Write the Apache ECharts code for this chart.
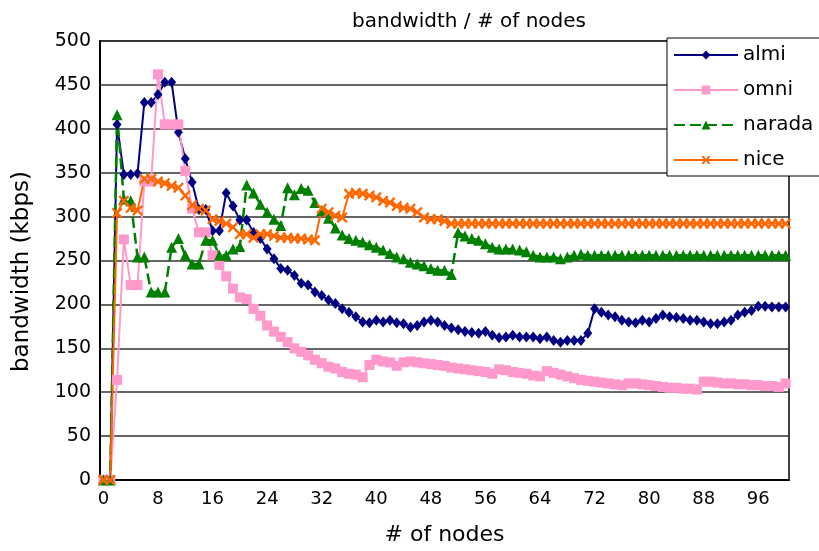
<!DOCTYPE html>
<html>
<head>
<meta charset="utf-8">
<script src="https://cdn.jsdelivr.net/npm/echarts@6/dist/echarts.min.js"></script>
<style>
  html, body { margin: 0; padding: 0; background: #fff; }
  #chart { width: 819px; height: 551px; }
</style>
</head>
<body>
<div id="chart"></div>
<script>
// x categories: number of nodes
const nodes = [
  0, 1, 2, 3, 4, 5, 6, 7, 8, 9, 10, 11, 12, 13, 14, 15, 16, 17, 18, 19,
  20, 21, 22, 23, 24, 25, 26, 27, 28, 29, 30, 31, 32, 33, 34, 35, 36, 37, 38, 39,
  40, 41, 42, 43, 44, 45, 46, 47, 48, 49, 50, 51, 52, 53, 54, 55, 56, 57, 58, 59,
  60, 61, 62, 63, 64, 65, 66, 67, 68, 69, 70, 71, 72, 73, 74, 75, 76, 77, 78, 79,
  80, 81, 82, 83, 84, 85, 86, 87, 88, 89, 90, 91, 92, 93, 94, 95, 96, 97, 98, 99, 100
];

const almi = [
  0, 0, 405, 348, 348, 349, 430, 430, 439, 453, 453, 396, 366, 339, 308, 308, 284, 284, 327, 312,
  296, 296, 282, 275, 263, 252, 241, 239, 233, 224, 222, 214, 210, 205, 201, 195, 191, 186, 180, 179,
  182, 180, 182, 179, 178, 174, 176, 180, 182, 180, 176, 173, 171, 169, 168, 167, 169, 165, 162, 163,
  165, 163, 163, 163, 161, 163, 159, 157, 159, 159, 159, 167, 195, 191, 188, 186, 182, 180, 179, 182,
  180, 184, 188, 186, 185, 184, 182, 182, 180, 178, 178, 180, 182, 188, 191, 193, 198, 198, 197, 197, 197
];

const omni = [
  0, 0, 114, 274, 222, 222, 340, 340, 462, 405, 405, 405, 352, 309, 282, 282, 256, 245, 232, 218,
  208, 206, 195, 187, 176, 169, 163, 157, 150, 146, 142, 137, 133, 129, 127, 123, 121, 120, 117, 131,
  137, 135, 134, 130, 134, 135, 134, 133, 132, 131, 130, 128, 127, 126, 125, 124, 123, 121, 126, 125,
  123, 122, 121, 119, 118, 124, 122, 120, 118, 116, 114, 113, 112, 111, 110, 109, 108, 110, 110, 109,
  108, 107, 106, 105, 105, 104, 104, 103, 112, 112, 111, 110, 110, 109, 109, 108, 108, 107, 107, 106, 110
];

const narada = [
  0, 0, 416, 320, 318, 254, 254, 214, 214, 214, 265, 275, 256, 246, 246, 273, 273, 256, 256, 263,
  266, 336, 327, 314, 305, 297, 290, 333, 325, 332, 330, 316, 307, 298, 287, 279, 275, 273, 271, 268,
  265, 262, 258, 254, 252, 248, 246, 244, 241, 239, 239, 234, 282, 278, 275, 273, 269, 265, 263, 263,
  263, 262, 260, 256, 254, 254, 254, 252, 254, 256, 257, 256, 256, 256, 256, 256, 256, 256, 256, 256,
  256, 256, 256, 256, 256, 256, 256, 256, 256, 256, 256, 256, 256, 256, 256, 256, 256, 256, 256, 256, 256
];

const nice = [
  0, 0, 304, 318, 310, 307, 343, 343, 340, 338, 335, 333, 324, 313, 309, 307, 297, 295, 292, 288,
  280, 280, 276, 280, 280, 278, 276, 276, 275, 275, 274, 273, 309, 305, 301, 299, 326, 327, 326, 324,
  322, 318, 316, 312, 310, 309, 305, 299, 297, 297, 295, 292, 292, 292, 292, 292, 292, 292, 292, 292,
  292, 292, 292, 292, 292, 292, 292, 292, 292, 292, 292, 292, 292, 292, 292, 292, 292, 292, 292, 292,
  292, 292, 292, 292, 292, 292, 292, 292, 292, 292, 292, 292, 292, 292, 292, 292, 292, 292, 292, 292, 292
];

const yTicks = { min: 0, max: 500, step: 50 };

const font = 'DejaVu Sans';
const cross = 'path://M0,1.5L1.5,0L5,3.5L8.5,0L10,1.5L6.5,5L10,8.5L8.5,10L5,6.5L1.5,10L0,8.5L3.5,5Z';

function lineSeries(name, data, color, symbol, size, lineType, width) {
  return {
    name: name,
    type: 'line',
    data: data,
    symbol: symbol,
    symbolSize: size,
    showSymbol: true,
    showAllSymbol: true,
    animation: false,
    itemStyle: { color: color },
    lineStyle: { color: color, width: width || 2, type: lineType || 'solid' },
    emphasis: { disabled: true }
  };
}

const chart = echarts.init(document.getElementById('chart'));
chart.setOption({
  backgroundColor: '#fff',
  textStyle: { fontFamily: font },
  title: {
    text: 'bandwidth / # of nodes',
    left: 347,
    top: 7,
    textStyle: { fontFamily: font, fontSize: 20, fontWeight: 'normal', color: '#000' }
  },
  legend: {
    orient: 'vertical',
    left: 667,
    top: 38,
    padding: [7, 12, 6, 6],
    itemGap: 15,
    itemWidth: 64,
    itemHeight: 11,
    backgroundColor: '#fff',
    borderColor: '#000',
    borderWidth: 1,
    borderRadius: 0,
    textStyle: { fontFamily: font, fontSize: 20, color: '#000' },
    data: ['almi', 'omni', 'narada', 'nice']
  },
  grid: {
    left: 100,
    right: 30,
    top: 41,
    bottom: 69,
    show: true,
    borderColor: '#000',
    borderWidth: 1.5
  },
  xAxis: {
    type: 'category',
    data: nodes,
    boundaryGap: true,
    name: '# of nodes',
    nameLocation: 'middle',
    nameGap: 44,
    nameTextStyle: { fontFamily: font, fontSize: 22, color: '#000' },
    axisLine: { lineStyle: { color: '#000', width: 2 } },
    axisTick: { interval: 0, inside: true, length: 5, lineStyle: { color: '#000', width: 1 } },
    axisLabel: { interval: 7, margin: 10, fontFamily: font, fontSize: 18, color: '#000' },
    splitLine: { show: false }
  },
  yAxis: {
    type: 'value',
    min: yTicks.min,
    max: yTicks.max,
    interval: yTicks.step,
    name: 'bandwidth (kbps)',
    nameLocation: 'middle',
    nameGap: 66,
    nameTextStyle: { fontFamily: font, fontSize: 23, color: '#000', padding: [0, 22, 0, 0] },
    axisLine: { show: true, lineStyle: { color: '#000', width: 2 } },
    axisTick: { show: false },
    axisLabel: { margin: 9, fontFamily: font, fontSize: 19, color: '#000' },
    splitLine: { lineStyle: { color: '#333', width: 1.5 } }
  },
  series: [
    lineSeries('almi', almi, '#000080', 'diamond', [9, 11]),
    lineSeries('omni', omni, '#ff99cc', 'rect', 10),
    lineSeries('narada', narada, '#008000', 'triangle', 11, [11, 5], 2.5),
    lineSeries('nice', nice, '#ff6600', cross, 11)
  ]
});
</script>
</body>
</html>
